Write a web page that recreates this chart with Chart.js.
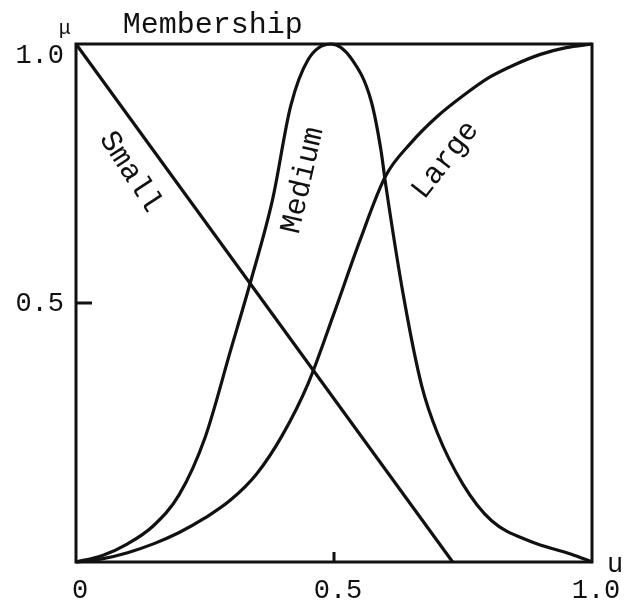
<!DOCTYPE html>
<html>
<head>
<meta charset="utf-8">
<script src="https://cdn.jsdelivr.net/npm/chart.js@4.4.1/dist/chart.umd.min.js"></script>
<style>
  html, body { margin: 0; padding: 0; background: #ffffff; }
  #wrap { width: 630px; height: 611px; }
</style>
</head>
<body>
<div id="wrap"><canvas id="c" width="630" height="611"></canvas></div>
<script>
// Membership functions of the fuzzy sets Small, Medium and Large over u in [0, 1]
const smallU  = [0, 0.73];
const smallMu = [1, 0];

const mediumU  = [0, 0.05, 0.1, 0.15, 0.2, 0.25, 0.3, 0.338, 0.381, 0.416, 0.45, 0.494, 0.535, 0.572, 0.591, 0.6, 0.636, 0.67, 0.7, 0.75, 0.805, 0.88, 0.96, 1.0];
const mediumMu = [0, 0.012, 0.035, 0.07, 0.13, 0.24, 0.41, 0.54, 0.70, 0.88, 0.97, 1.0, 0.97, 0.89, 0.795, 0.73, 0.506, 0.34, 0.25, 0.15, 0.08, 0.04, 0.015, 0];

const largeU  = [0, 0.05, 0.1, 0.15, 0.2, 0.25, 0.3, 0.35, 0.4, 0.45, 0.5, 0.55, 0.6, 0.65, 0.7, 0.75, 0.8, 0.85, 0.9, 0.95, 1.0];
const largeMu = [0, 0.006, 0.018, 0.035, 0.057, 0.085, 0.12, 0.17, 0.245, 0.345, 0.48, 0.62, 0.745, 0.81, 0.86, 0.9, 0.935, 0.96, 0.98, 0.993, 1.0];

const xTicks = [0, 0.5, 1.0];
const xTickLabels = ['0', '0.5', '1.0'];
const yTicks = [0.5, 1.0];
const yTickLabels = ['0.5', '1.0'];

const seriesNames = ['Small', 'Medium', 'Large'];

const FONT = '"Liberation Mono", "DejaVu Sans Mono", monospace';
const INK = '#111111';

function points(us, mus) {
  return us.map((u, i) => ({ x: u, y: mus[i] }));
}

// Curve captions and axis captions, placed in data coordinates
const captions = [
  { text: seriesNames[0], u: 0.105, mu: 0.753, rot: 57,  size: 30 },
  { text: seriesNames[1], u: 0.440, mu: 0.737, rot: -77, size: 30 },
  { text: seriesNames[2], u: 0.716, mu: 0.776, rot: -52, size: 30 },
  { text: 'Membership',   u: 0.265, mu: 1.037, rot: 0,   size: 30 },
  { text: 'μ',            u: -0.022, mu: 1.03, rot: 0,   size: 20 },
  { text: 'u',            u: 1.045, mu: -0.005, rot: 0,  size: 27 }
];

const framePlugin = {
  id: 'frame',
  afterDatasetsDraw(chart) {
    const { ctx, chartArea: a, scales } = chart;
    const xs = scales.x, ys = scales.y;
    ctx.save();
    ctx.strokeStyle = INK;
    ctx.lineWidth = 3;
    ctx.strokeRect(a.left, a.top, a.right - a.left, a.bottom - a.top);
    // inward tick marks at the midpoints
    ctx.beginPath();
    const yMid = ys.getPixelForValue(0.5);
    ctx.moveTo(a.left, yMid);
    ctx.lineTo(a.left + 16, yMid);
    const xMid = xs.getPixelForValue(0.5);
    ctx.moveTo(xMid, a.bottom);
    ctx.lineTo(xMid, a.bottom - 10);
    ctx.stroke();

    ctx.fillStyle = INK;
    // value labels of the membership axis; the top one sits just under the frame corner
    ctx.font = '27px ' + FONT;
    ctx.textAlign = 'right';
    ctx.textBaseline = 'middle';
    yTicks.forEach((v, i) => {
      const dy = v === 1 ? 12 : 1;
      ctx.fillText(yTickLabels[i], a.left - 12, ys.getPixelForValue(v) + dy);
    });

    ctx.textAlign = 'center';
    captions.forEach(c => {
      ctx.save();
      ctx.translate(xs.getPixelForValue(c.u), ys.getPixelForValue(c.mu));
      ctx.rotate(c.rot * Math.PI / 180);
      ctx.font = c.size + 'px ' + FONT;
      ctx.fillText(c.text, 0, 0);
      ctx.restore();
    });
    ctx.restore();
  }
};

const lineStyle = {
  borderColor: INK,
  borderWidth: 3.2,
  pointRadius: 0,
  fill: false,
  cubicInterpolationMode: 'monotone',
  clip: 4
};

new Chart(document.getElementById('c'), {
  type: 'line',
  data: {
    datasets: [
      Object.assign({ label: seriesNames[0], data: points(smallU, smallMu) }, lineStyle, { cubicInterpolationMode: 'default', tension: 0 }),
      Object.assign({ label: seriesNames[1], data: points(mediumU, mediumMu) }, lineStyle),
      Object.assign({ label: seriesNames[2], data: points(largeU, largeMu) }, lineStyle)
    ]
  },
  options: {
    responsive: false,
    animation: false,
    devicePixelRatio: 1,
    layout: { padding: { left: 0, top: 44, right: 38, bottom: 0 } },
    plugins: { legend: { display: false }, tooltip: { enabled: false } },
    scales: {
      x: {
        type: 'linear',
        min: 0,
        max: 1,
        grid: { display: false, drawTicks: false },
        border: { display: false },
        afterBuildTicks: s => { s.ticks = xTicks.map(v => ({ value: v })); },
        afterFit: s => { s.height = 49; },
        ticks: {
          color: INK,
          padding: 13,
          labelOffset: 4,
          font: { family: FONT, size: 27 },
          maxRotation: 0,
          callback: (v) => xTickLabels[xTicks.indexOf(v)]
        }
      },
      y: {
        type: 'linear',
        min: 0,
        max: 1,
        grid: { display: false, drawTicks: false },
        border: { display: false },
        afterBuildTicks: s => { s.ticks = yTicks.map(v => ({ value: v })); },
        afterFit: s => { s.width = 76; },
        ticks: { display: false }
      }
    }
  },
  plugins: [framePlugin]
});
</script>
</body>
</html>
